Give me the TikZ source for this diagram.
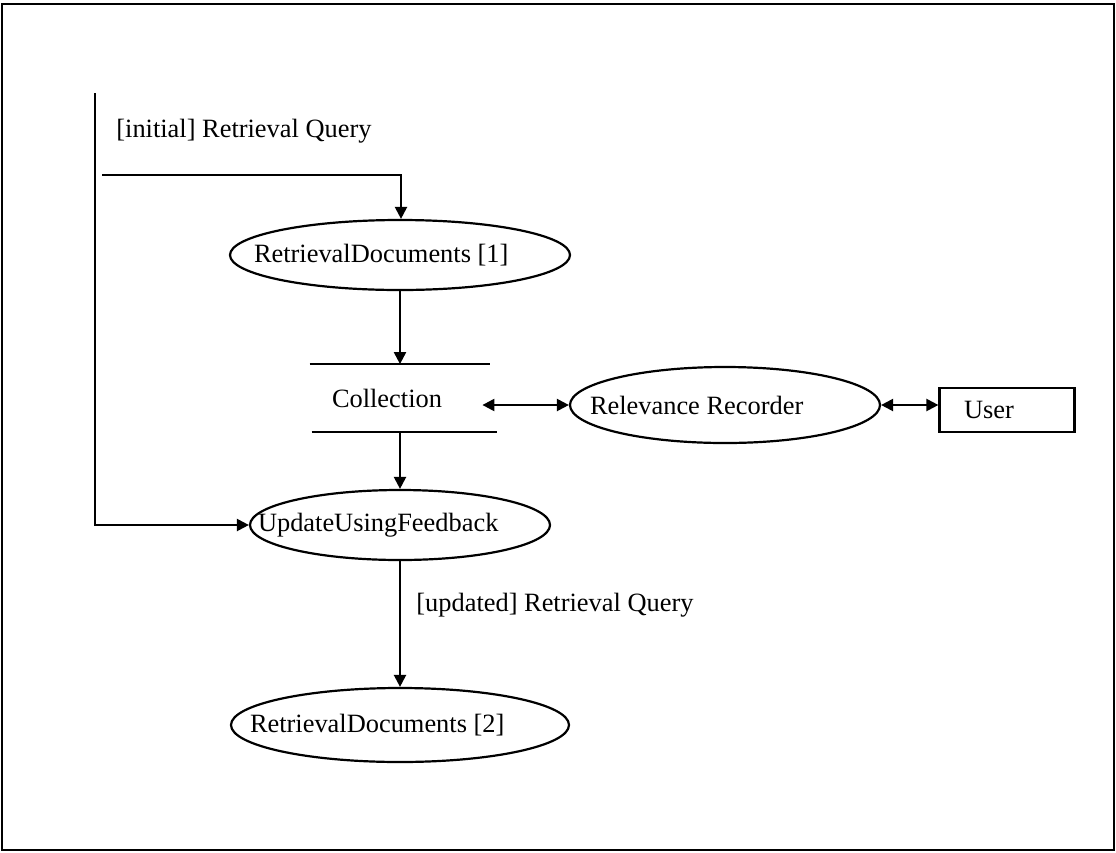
\documentclass[tikz,border=0pt]{standalone}
\usepackage{fontspec}
\setmainfont{Liberation Serif}
\usetikzlibrary{arrows.meta,shapes.geometric}
\newcommand{\lefttext}[2]{\makebox[0pt][l]{\hspace*{-#1}#2}}
\begin{document}
\begin{tikzpicture}[x=0.5pt,y=-0.5pt,
  every node/.style={font=\fontsize{13.2}{15.8}\selectfont, inner sep=0pt},
  proc/.style={ellipse, draw, line width=1.1pt},
  flow/.style={line width=1.1pt, -{Triangle[length=6pt,width=6pt]}},
  bflow/.style={line width=1.1pt, {Triangle[length=6pt,width=6pt]}-{Triangle[length=6pt,width=6pt]}},
  storeline/.style={line width=1.1pt},
  lbl/.style={anchor=west}]
\useasboundingbox (0,0) rectangle (1116,853);
\draw[line width=1.1pt] (2,4) rectangle (1114,850);

% nodes
\node[proc, minimum width=170pt, minimum height=35pt] (rd1) at (400,255) {\lefttext{73pt}{RetrievalDocuments [1]}};
\node[minimum width=90pt, minimum height=33.5pt] (coll) at (400,398) {\lefttext{34pt}{Collection}};
\node[proc, minimum width=155pt, minimum height=38pt] (rr) at (725,405) {\lefttext{67.5pt}{Relevance Recorder}};
\node[draw, line width=1.1pt, minimum width=67.5pt, minimum height=22pt] (user) at (1007,410) {\lefttext{21.5pt}{User}};
\node[proc, minimum width=150pt, minimum height=35pt] (uuf) at (400,525) {\lefttext{71pt}{UpdateUsingFeedback}};
\node[proc, minimum width=169pt, minimum height=37pt] (rd2) at (400,725) {\lefttext{75pt}{RetrievalDocuments [2]}};

% labels
\node[lbl] (linit) at (116,131) {[initial] Retrieval Query};
\node[lbl] (lupd) at (416,605) {[updated] Retrieval Query};

% store lines of Collection
\draw[storeline] (coll.north west) -- (coll.north east);
\draw[storeline] ([xshift=1pt]coll.south west) -- ([xshift=3.5pt]coll.south east);

% connectors
\coordinate (ltop) at (95,93);
\coordinate (lcorner) at (95,525);
\coordinate (hstart) at (102,175);
\coordinate (hend) at (401,175);
\draw[flow] (ltop) -- (lcorner) -- (uuf.west);
\draw[flow] (hstart) -- (hend) -- (hend |- rd1.north);
\draw[flow] (rd1.south) -- (coll.north);
\draw[bflow] ([xshift=-4pt]coll.east |- rr.west) -- (rr.west);
\draw[bflow] (rr.east) -- (user.west |- rr.east);
\draw[flow] (coll.south) -- (uuf.north);
\draw[flow] (uuf.south) -- (rd2.north);
\end{tikzpicture}
\end{document}
